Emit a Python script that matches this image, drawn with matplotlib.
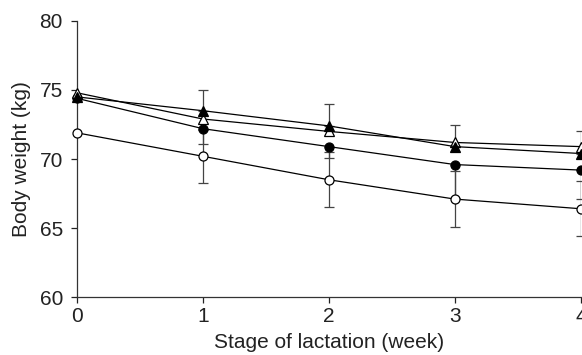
import matplotlib.pyplot as plt
import numpy as np

plt.rcParams['font.family'] = ['Liberation Sans', 'DejaVu Sans']

# Semanas de lactancia
weeks = [0, 1, 2, 3, 4]

# Peso corporal (kg) para cada grupo
open_circle = [71.9, 70.2, 68.5, 67.1, 66.4]
filled_circle = [74.4, 72.2, 70.9, 69.6, 69.2]
filled_triangle = [74.5, 73.5, 72.4, 70.9, 70.4]
open_triangle = [74.8, 72.9, 72.0, 71.2, 70.9]

# Barras de error (una dirección visible en la figura)
open_circle_err = [0, 1.9, 2.0, 2.0, 2.0]
filled_circle_err_low = [0, 1.1, 0.8, 2.4, 2.1]
filled_triangle_err_up = [0, 1.5, 1.6, 1.6, 1.6]

fig = plt.figure(figsize=(5.82, 3.55), dpi=100)
ax = fig.add_axes([0.132, 0.163, 0.866, 0.778])

# Sin barras en la semana 0 (coinciden con el eje)
err_kw = dict(fmt='none', ecolor='#444444', elinewidth=0.9, capsize=3.5, capthick=0.9,
              errorevery=(1, 1), zorder=2)
ax.errorbar(weeks, open_circle, yerr=open_circle_err, **err_kw)
ax.errorbar(weeks, filled_circle, yerr=[filled_circle_err_low, [0] * 5], **err_kw)
ax.errorbar(weeks, filled_triangle, yerr=[[0] * 5, filled_triangle_err_up], **err_kw)

line_kw = dict(color='black', linewidth=0.9, markersize=6.5, markeredgewidth=0.9, zorder=3)
ax.plot(weeks, open_circle, marker='o', markerfacecolor='white', markeredgecolor='black', **line_kw)
ax.plot(weeks, filled_circle, marker='o', markerfacecolor='black', markeredgecolor='black', **line_kw)
ax.plot(weeks, open_triangle, marker='^', markerfacecolor='white', markeredgecolor='black', **line_kw)
ax.plot(weeks, filled_triangle, marker='^', markerfacecolor='black', markeredgecolor='black', **line_kw)

ax.set_xlim(0, 4)
ax.set_ylim(60, 80)
ax.set_xticks(weeks)
ax.set_yticks([60, 65, 70, 75, 80])

for s in ['top', 'right']:
    ax.spines[s].set_visible(False)
for s in ['left', 'bottom']:
    ax.spines[s].set_linewidth(0.9)
    ax.spines[s].set_color('#333333')

ax.tick_params(direction='out', length=4, width=0.9, labelsize=15, colors='#222222')
ax.tick_params(axis='x', pad=3)
ax.tick_params(axis='y', pad=6)
ax.set_xlabel('Stage of lactation (week)', fontsize=15, color='#222222', labelpad=5)
ax.set_ylabel('Body weight (kg)', fontsize=15, color='#222222', labelpad=6)

for ln in ax.lines:
    ln.set_clip_on(False)

fig.savefig('out.png', dpi=100)
